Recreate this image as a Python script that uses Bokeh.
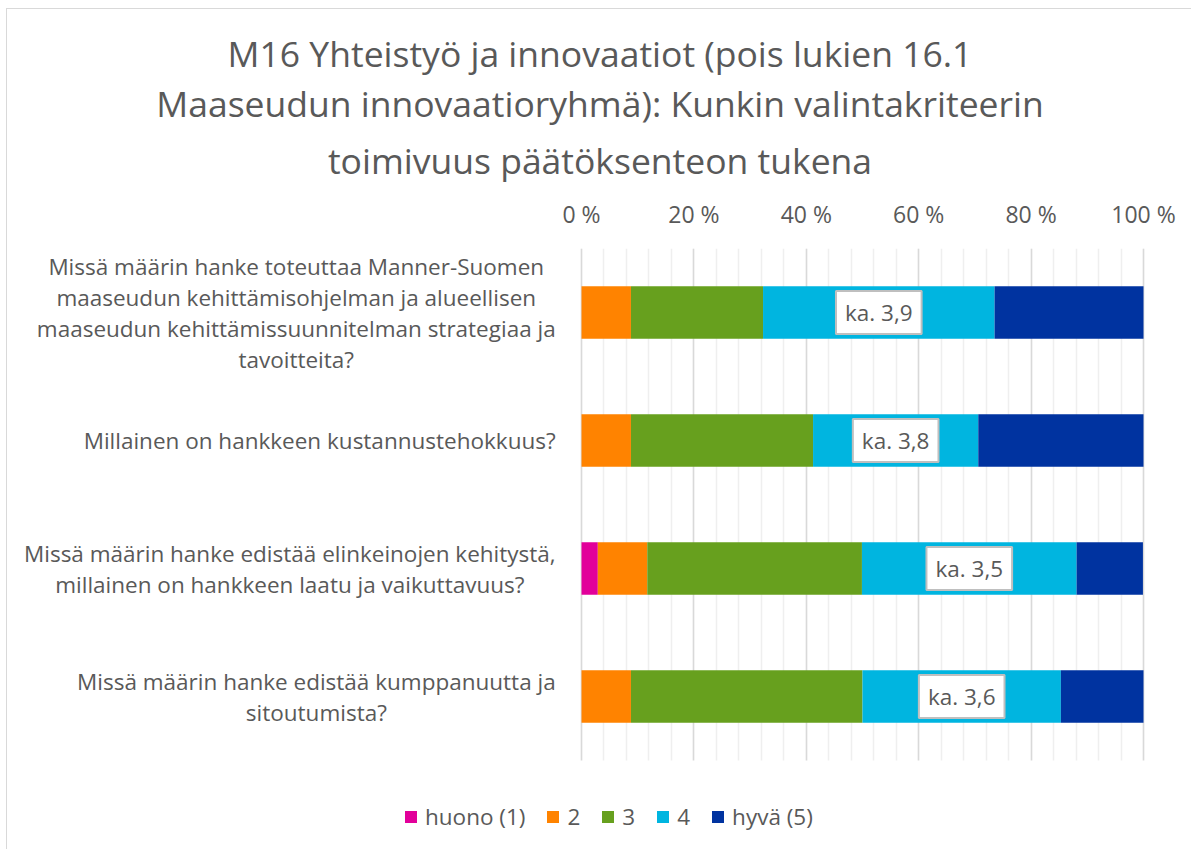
from bokeh.plotting import figure
from bokeh.models import Range1d, FixedTicker, Legend, LegendItem, ColumnDataSource, Title, BoxAnnotation
from bokeh.core.properties import value
from bokeh.embed import file_html
from bokeh.resources import INLINE

title_lines = ["M16 Yhteistyö ja innovaatiot (pois lukien 16.1",
               "Maaseudun innovaatioryhmä): Kunkin valintakriteerin",
               "toimivuus päätöksenteon tukena"]

categories = [
    "Missä määrin hanke toteuttaa Manner-Suomen\nmaaseudun kehittämisohjelman ja alueellisen\nmaaseudun kehittämissuunnitelman strategiaa ja\ntavoitteita?",
    "Millainen on hankkeen kustannustehokkuus?",
    "Missä määrin hanke edistää elinkeinojen kehitystä,\nmillainen on hankkeen laatu ja vaikuttavuus?",
    "Missä määrin hanke edistää kumppanuutta ja\nsitoutumista?",
]
series_names = ["huono (1)", "2", "3", "4", "hyvä (5)"]
huono = [0.0, 0.0, 2.9, 0.0]
v2 = [8.8, 8.8, 8.8, 8.8]
v3 = [23.5, 32.4, 38.2, 41.2]
v4 = [41.2, 29.4, 38.2, 35.3]
hyva = [26.5, 29.4, 11.8, 14.7]
means = [3.9, 3.8, 3.5, 3.6]
tick_values = [0, 20, 40, 60, 80, 100]
tick_labels = ["0 %", "20 %", "40 %", "60 %", "80 %", "100 %"]

colors = ["#E2009A", "#FF8300", "#67A01E", "#00B5E0", "#0033A0"]
TEXT = "#595959"
FONT = "Open Sans"
FS = "22.5px"

ypos = list(range(len(categories)))
n_cat = len(categories)
source = ColumnDataSource(data=dict(cat=categories, y=ypos, s1=huono, s2=v2, s3=v3, s4=v4, s5=hyva))

p = figure(width=1185, height=841,
           x_range=Range1d(-102.14, 108.72),
           y_range=Range1d(n_cat - 0.5 + 90 / 128, -0.5),
           x_axis_location="above", y_axis_location=None, title_location=None,
           output_backend="svg", toolbar_location=None,
           min_border_left=0, min_border_right=0,
           min_border_top=239, min_border_bottom=0)
p.outline_line_color = None
p.background_fill_color = "white"
p.border_fill_color = "white"
p.styles = {"margin-left": "6px", "margin-top": "8px",
            "border-left": "1px solid #D9D9D9", "border-top": "1px solid #D9D9D9"}

ax = p.xaxis[0]
ax.ticker = FixedTicker(ticks=tick_values, minor_ticks=list(range(0, 101, 4)))
ax.major_label_overrides = {t: l for t, l in zip(tick_values, tick_labels)}
ax.axis_line_color = None
ax.major_tick_line_color = None
ax.minor_tick_line_color = None
ax.major_label_text_font = FONT
ax.major_label_text_font_size = "23px"
ax.major_label_text_color = TEXT
ax.major_label_standoff = 13

title_standoffs = [0, 0, 18]
title_valign = ["bottom", "bottom", "top"]
for line, so, va in reversed(list(zip(title_lines, title_standoffs, title_valign))):
    t = Title(text=line, align="center", standoff=so, vertical_align=va,
              text_font=FONT, text_font_size="35.5px", text_font_style="normal",
              text_color=TEXT)
    p.add_layout(t, "above")

p.xgrid.grid_line_color = "#D9D9D9"
p.xgrid.grid_line_width = 1.5
p.xgrid.minor_grid_line_color = "#EFEFEF"
p.xgrid.minor_grid_line_width = 1.5
p.ygrid.visible = False

# keep the grid inside the plot area
p.add_layout(BoxAnnotation(top=n_cat - 0.5, fill_color="white", fill_alpha=1.0,
                           line_color=None))

rends = p.hbar_stack(["s1", "s2", "s3", "s4", "s5"], y="y", height=0.41,
                     color=colors, line_color=None, source=source)

# category labels
p.text(x=-4.6, y="y", text="cat", source=source,
       anchor="center_right", text_align="center", text_baseline="middle",
       text_font=value(FONT), text_font_size=FS, text_color=TEXT,
       text_line_height=1.0)

# mean labels in the middle of segment "4"
mid = [a + b + c + d / 2 for a, b, c, d in zip(huono, v2, v3, v4)]
mtxt = ["ka. " + f"{m:.1f}".replace(".", ",") for m in means]
lsrc = ColumnDataSource(data=dict(x=mid, y=ypos, t=mtxt))
p.text(x="x", y="y", text="t", source=lsrc,
       text_align="center", text_baseline="middle",
       text_font=value(FONT), text_font_size=FS, text_color=TEXT,
       background_fill_color="white", border_line_color="#BFBFBF",
       border_line_width=2, padding=dict(left=9, right=9, top=6, bottom=6))

legend = Legend(items=[LegendItem(label=n, renderers=[r]) for n, r in zip(series_names, rends)],
                orientation="horizontal", location=(396, 18))
legend.label_text_font = FONT
legend.label_text_font_size = FS
legend.label_text_color = TEXT
legend.label_height = 26
legend.label_width = 0
legend.label_standoff = 7
legend.glyph_width = 15
legend.glyph_height = 15
legend.spacing = 20
legend.padding = 5
legend.margin = 0
legend.border_line_color = None
legend.background_fill_alpha = 0
p.add_layout(legend)

open("out.html", "w").write(file_html(p, INLINE))
